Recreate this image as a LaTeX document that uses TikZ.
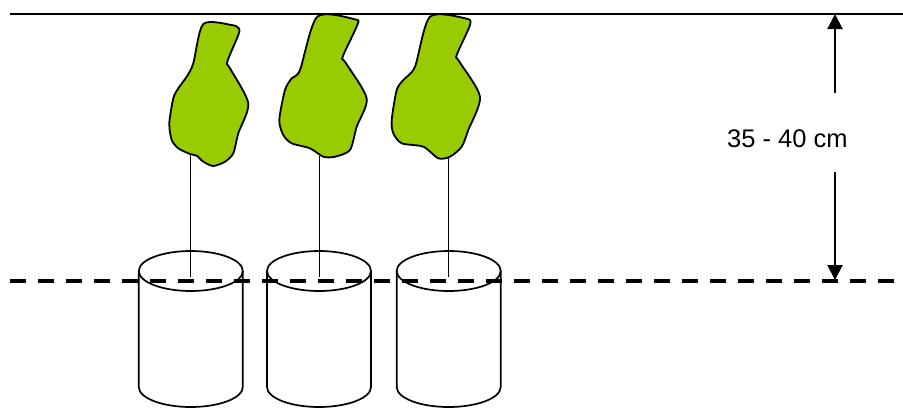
\documentclass[tikz,border=0pt]{standalone}
\usepackage{fontspec}
\setmainfont{Liberation Sans}
\usetikzlibrary{arrows.meta}
\definecolor{leafgreen}{RGB}{153,204,0}
\tikzset{
  ground/.style={line width=2pt},
  soilline/.style={line width=3.2pt, dash pattern=on 15.5pt off 12.5pt},
  pot/.style={line width=1.7pt},
  stem/.style={line width=1.5pt},
  leaf/.style={line width=1.8pt, fill=leafgreen, line join=round},
  dim/.style={line width=2pt, -{Triangle[length=15pt,width=15pt]}},
}
\begin{document}
\begin{tikzpicture}[x=1pt,y=-1pt]
\useasboundingbox (0,0) rectangle (903,408);

% top reference line
\coordinate (g0) at (10,14);
\coordinate (g1) at (903,14);
\draw[ground] (g0) -- (g1);

% pots
\foreach \cx/\n in {190.8/1, 319/2, 448.7/3}{
  \draw[pot] (\cx-52,271) -- (\cx-52,387)
     arc[start angle=180, end angle=360, x radius=52, y radius=-20]
     -- (\cx+52,271);
  \draw[pot] (\cx,271) ellipse[x radius=52, y radius=20];
}

% stems
\coordinate (s1a) at (190.7,154); \coordinate (s1b) at (190.7,277);
\coordinate (s2a) at (319.3,156); \coordinate (s2b) at (319.3,277);
\coordinate (s3a) at (448.5,157); \coordinate (s3b) at (448.5,277);
\draw[stem] (s1a) -- (s1b);
\draw[stem] (s2a) -- (s2b);
\draw[stem] (s3a) -- (s3b);

% leaves
\draw[leaf] plot[smooth cycle, tension=0.45] coordinates {
  (203.3,24) (231.7,25) (239,28.5) (238.3,35) (227.3,61.7) (230,68.3)
  (248.3,103.3) (238.3,133.3) (233.3,153.3) (225,161.7) (213.3,166)
  (203.3,161.7) (196.7,155.7) (190,154) (178.3,148.3) (171.7,140)
  (169.3,123.3) (173.3,98.3) (178.3,88.3) (186.7,76.7) (193.3,63.3)};
\draw[leaf] plot[smooth cycle, tension=0.45] coordinates {
  (317.3,16.7) (355,19.3) (357.3,25) (342.7,56.7) (345.5,62.5)
  (366.7,98.3) (356.7,126.7) (350,150) (335,156.7) (323.3,156.7)
  (310,148.3) (291.7,143.3) (283.3,135) (279.3,120) (285,90)
  (291.7,78.3) (300,70)};
\draw[leaf] plot[smooth cycle, tension=0.45] coordinates {
  (430,16.7) (466,18.5) (470,25) (456.7,55) (459,61) (480,96.7)
  (468.3,130) (461.7,146.7) (450,156.7) (438.3,158.3) (423.3,146.7)
  (401.7,143.3) (393.3,133.3) (391.7,120) (396.7,90) (403.3,80)
  (415,66.7)};

% soil level
\coordinate (d0) at (10,281);
\coordinate (d1) at (900,281);
\draw[soilline] (d0) -- (d1);

% depth dimension
\node[anchor=base west, inner sep=0pt, font=\fontsize{25.5}{30}\selectfont]
  (lbl) at (727,147.3) {35 - 40 cm};
\coordinate (up0) at (835,93);
\coordinate (up1) at (835,14);
\coordinate (dn0) at (835,172);
\coordinate (dn1) at (835,280);
\draw[dim] (up0) -- (up1);
\draw[dim] (dn0) -- (dn1);
\end{tikzpicture}
\end{document}
